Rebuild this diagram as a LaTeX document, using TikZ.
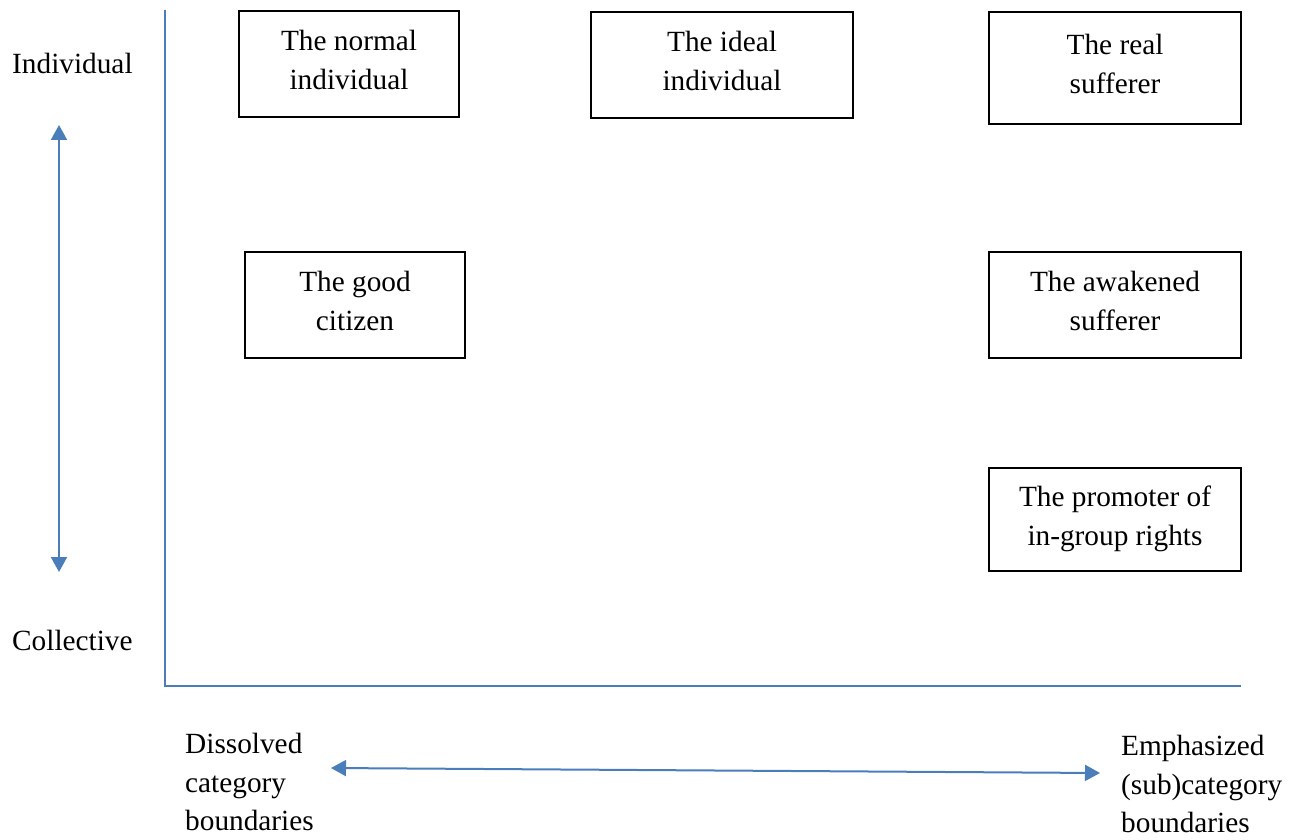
\documentclass[tikz,border=0pt]{standalone}
\usepackage{fontspec}
\setmainfont{Liberation Serif}
\usepackage{tikz}
\usetikzlibrary{arrows.meta,positioning}
\definecolor{axisblue}{RGB}{74,126,187}
\tikzset{
	box/.style = {draw, line width = 1.2pt, align = center, text depth = 8pt},
	axisline/.style = {draw = axisblue, line width = 2pt},
	dimarrow/.style = {axisline, {Triangle[length = 15pt, width = 16pt]}-{Triangle[length = 15pt, width = 16pt]}}
}

\begin{document}
\begin{tikzpicture}[x = 1pt, y = -1pt, font = \fontsize{29.3}{39}\selectfont]
	\useasboundingbox (0,0) rectangle (1304,840);
	% axes
	\coordinate (top) at (165,10);
	\coordinate (origin) at (165,686);
	\coordinate (right) at (1241,686);
	\draw[axisline] (top) -- (origin) -- (right);
	% vertical scale
	\node[anchor = west, inner sep = 0] (indiv) at (12,63) {Individual};
	\node[anchor = west, inner sep = 0] (coll) at (12,640) {Collective};
	\coordinate (vtop) at (59,125);
	\coordinate (vbot) at (59,572);
	\draw[dimarrow] (vtop) -- (vbot);
	% horizontal scale
	\node[align = left, anchor = north west, inner sep = 0, font = \fontsize{29.3}{38.5}\selectfont] (dissolved) at (185,733) {Dissolved\\category\\boundaries};
	\node[align = left, anchor = north west, inner sep = 0, font = \fontsize{29.3}{38.5}\selectfont] (emph) at (1121,735) {Emphasized\\(sub)category\\boundaries};
	\coordinate (hleft) at (331,768);
	\coordinate (hright) at (1100,773);
	\draw[dimarrow] (hleft) -- (hright);
	% positions
	\node[box, minimum width = 220pt, minimum height = 106pt] (normal) at (349,64) {The normal\\individual};
	\node[box, minimum width = 262pt, minimum height = 106pt] (ideal) at (722,65) {The ideal\\individual};
	\node[box, minimum width = 252pt, minimum height = 112pt] (real) at (1115,68) {The real\\sufferer};
	\node[box, minimum width = 220pt, minimum height = 106pt] (citizen) at (355,305) {The good\\citizen};
	\node[box, minimum width = 252pt, minimum height = 106pt] (awake) at (1115,305) {The awakened\\sufferer};
	\node[box, minimum width = 252pt, minimum height = 103pt] (promoter) at (1115,519.5) {The promoter of\\in-group rights};
\end{tikzpicture}
\end{document}
